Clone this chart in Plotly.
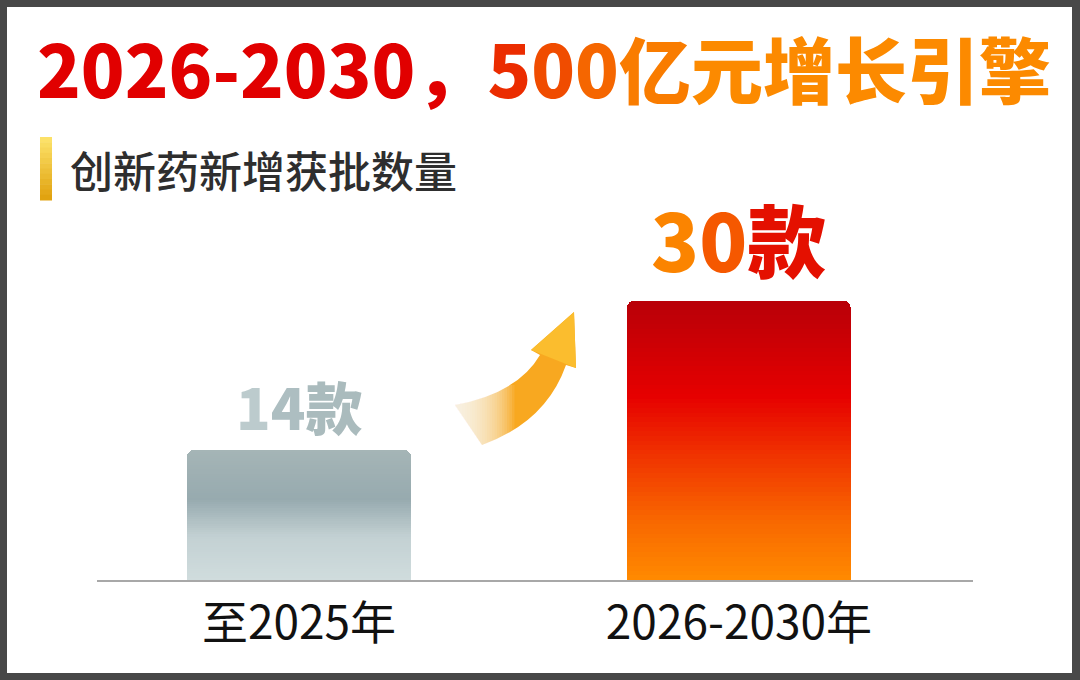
import plotly.graph_objects as go
from plotly.colors import sample_colorscale

# ---------------- data ----------------
categories = ["至2025年", "2026-2030年"]
values = [14, 30]
value_units = ["款", "款"]
title_part1 = "2026-2030，"
title_part2 = "500亿元增长引擎"
subtitle = "创新药新增获批数量"

# ---------------- helpers ----------------
W, H = 1080, 680
def px(x):
    return x / W
def py(y):
    return 1 - y / H

FONT = "Noto Sans CJK SC"

grey_scale = [[0, "#d0dcdd"], [0.33, "#c3d1d3"], [0.62, "#97aaaf"], [1, "#a5b5b6"]]
red_scale = [[0, "#ff8a00"], [0.22, "#f86600"], [0.45, "#f03200"], [0.66, "#e60000"], [1, "#b80008"]]
scales = [grey_scale, red_scale]

N = 60
fig = go.Figure()
for i in range(N):
    frac = (i + 0.5) / N
    cols = [sample_colorscale(s, [frac])[0] for s in scales]
    fig.add_trace(go.Bar(
        x=categories, y=[v / N for v in values],
        marker=dict(color=cols, line=dict(width=0)),
        width=0.51, hoverinfo="skip", showlegend=False,
    ))

# ---------------- value labels ----------------
label_colors = [["#bccbcd", "#adbec1"], ["#fb8400", "#f55800"]]
unit_colors = ["#aabbbd", "#e41000"]
label_sizes = [57, 79]
label_weights = [800, 900]
label_shift = [2, 4]
annotations = []
for i, (c, v) in enumerate(zip(categories, values)):
    digits = str(v)
    txt = "".join(
        f"<span style='color:{label_colors[i][k % 2]}'>{d}</span>" for k, d in enumerate(digits)
    ) + f"<span style='color:{unit_colors[i]}'>{value_units[i]}</span>"
    annotations.append(dict(
        x=c, y=v, xref="x", yref="y", text=txt, showarrow=False,
        yanchor="bottom", xanchor="center", yshift=label_shift[i],
        font=dict(family=FONT, size=label_sizes[i], weight=label_weights[i]),
    ))

# ---------------- title ----------------
t2_colors = ["#eb2c00", "#f04c00", "#f56600", "#f97c00"]
t2 = "".join(
    f"<span style='color:{t2_colors[k] if k < len(t2_colors) else '#fc8a00'}'>{ch}</span>"
    for k, ch in enumerate(title_part2)
)
annotations.append(dict(
    x=px(35), y=py(67), xref="paper", yref="paper", xanchor="left", yanchor="middle",
    text=f"<span style='color:#e10000'>{title_part1}</span>{t2}", showarrow=False,
    font=dict(family=FONT, size=72, weight=900),
))
annotations.append(dict(
    x=px(68), y=py(169), xref="paper", yref="paper", xanchor="left", yanchor="middle",
    text=subtitle, showarrow=False,
    font=dict(family=FONT, size=43, weight=500, color="#2e2e2e"),
))

# ---------------- shapes ----------------
shapes = []
# white card inside dark frame
shapes.append(dict(type="rect", xref="paper", yref="paper",
                   x0=px(7), x1=px(1072), y0=py(673), y1=py(7),
                   fillcolor="white", line=dict(width=0), layer="below"))
# yellow marker bar
mk_scale = [[0, "#fde46c"], [1, "#e0a00c"]]
steps = 12
y_top, y_bot = 137, 200
for k in range(steps):
    a = y_top + (y_bot - y_top) * k / steps
    b = y_top + (y_bot - y_top) * (k + 1) / steps
    col = sample_colorscale(mk_scale, [(k + 0.5) / steps])[0]
    shapes.append(dict(type="rect", xref="paper", yref="paper",
                       x0=px(40), x1=px(52), y0=py(b + 0.5), y1=py(a),
                       fillcolor=col, line=dict(width=0), layer="above"))

# curved arrow
def P(x, y):
    return f"{px(x)},{py(y)}"
arrow_path = (
    f"M {P(455,405)} Q {P(518,393)} {P(540,355)} "
    f"L {P(531,350)} L {P(574,312)} L {P(576,368)} L {P(566,365)} "
    f"Q {P(546,422)} {P(482,445)} Z"
)
shapes.append(dict(type="path", path=arrow_path, xref="paper", yref="paper",
                   fillcolor="#f8a820", line=dict(width=0), layer="above"))
head_path = f"M {P(531,350)} L {P(574,312)} L {P(576,368)} Z"
shapes.append(dict(type="path", path=head_path, xref="paper", yref="paper",
                   fillcolor="#fbbd2e", line=dict(width=0), layer="above"))
# tail fade (many thin overlapping white veils)
for k in range(22):
    x1 = 462 + 2.5 * k
    shapes.append(dict(type="rect", xref="paper", yref="paper",
                       x0=px(440), x1=px(x1), y0=py(455), y1=py(385),
                       fillcolor="white", opacity=0.09, line=dict(width=0), layer="above"))

fig.update_layout(
    width=W, height=H, autosize=False,
    margin=dict(l=0, r=0, t=0, b=0, pad=0),
    paper_bgcolor="#484848", plot_bgcolor="rgba(0,0,0,0)",
    barmode="stack", barcornerradius=7, bargap=0,
    showlegend=False,
    xaxis=dict(domain=[px(97), px(973)], range=[-0.459, 1.532], type="category",
               showline=True, linecolor="#a8a8a8", linewidth=2, showgrid=False,
               zeroline=False, ticks="", ticklabelstandoff=2,
               tickfont=dict(family=FONT, size=46, color="#111111"), fixedrange=True),
    yaxis=dict(domain=[py(580), py(208)], range=[0, 40], visible=False, fixedrange=True),
    annotations=annotations, shapes=shapes,
)

fig.write_html("out.html", config={"displayModeBar": False},
               post_script="document.body.style.margin='0';document.body.style.background='#484848';")
